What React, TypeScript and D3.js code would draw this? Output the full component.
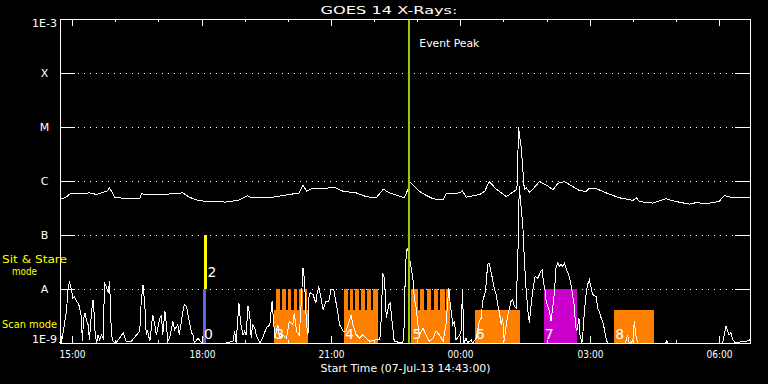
import React from "react";
import * as d3 from "d3";

// ---------- DATA ----------
// time axis: minutes since start time 2013-07-07 14:43 UTC, 16 hours shown
const START_ISO = "2013-07-07T14:43:00Z";
const DURATION_MIN = 960;

// flux levels (W/m^2) and their labels
const levelValues = [1e-9, 1e-8, 1e-7, 1e-6, 1e-5, 1e-4, 1e-3];
const levelLabels = ["1E-9", "A", "B", "C", "M", "X", "1E-3"];

// GOES 14 long channel (1-8 A), log10 flux
const longT = [0, 7, 14, 27, 41, 51, 60, 65, 69, 73, 76, 111, 113, 139, 153, 171, 180, 190, 204, 231, 250, 261, 266, 296, 324, 333, 338, 343, 352, 370, 380, 394, 412, 426, 440, 450, 458, 470, 479, 484, 486, 491, 500, 510, 519, 533, 537, 556, 560, 565, 584, 591, 597, 607, 621, 635, 636, 638, 642, 646, 649, 653, 658, 667, 676, 686, 693, 702, 713, 723, 732, 737, 746, 760, 778, 797, 802, 806, 825, 843, 857, 876, 885, 899, 917, 924, 936, 960];
const longLog = [-6.33, -6.31, -6.24, -6.24, -6.22, -6.25, -6.21, -6.19, -6.13, -6.22, -6.31, -6.33, -6.24, -6.25, -6.24, -6.22, -6.30, -6.35, -6.38, -6.39, -6.35, -6.27, -6.31, -6.30, -6.24, -6.22, -6.07, -6.19, -6.13, -6.14, -6.11, -6.19, -6.22, -6.29, -6.31, -6.15, -6.22, -6.27, -6.31, -6.16, -6.01, -6.07, -6.19, -6.27, -6.33, -6.35, -6.24, -6.22, -6.18, -6.30, -6.25, -6.19, -6.01, -6.15, -6.29, -6.16, -6.07, -5.01, -5.42, -6.16, -6.13, -6.21, -6.15, -6.01, -6.07, -6.16, -6.04, -6.01, -6.10, -6.18, -6.19, -6.13, -6.14, -6.22, -6.31, -6.36, -6.31, -6.38, -6.41, -6.33, -6.38, -6.43, -6.40, -6.42, -6.38, -6.27, -6.31, -6.30];

// GOES 14 short channel (0.5-4 A), log10 flux
const shortT = [0, 0.5, 2, 9, 11, 13, 16, 18, 20, 23, 25, 27, 30, 31, 33, 35, 37, 39, 41, 44, 46, 47, 49, 51, 53, 55, 57.5, 60, 62, 64.5, 67, 69, 71.5, 74, 78, 88, 92, 99, 111, 113, 115.5, 118, 120, 122, 125, 129, 132, 134, 139, 141, 143, 146, 148, 150, 152.5, 157, 159.5, 164, 166, 171, 173, 176, 178, 180, 183, 185, 187, 192, 197, 231,
  240.6, 243, 245, 249, 251, 254.5, 257, 259, 261.5, 264, 266, 268, 271, 273, 275, 278, 282, 287, 292, 295, 299, 303, 305.5, 310, 315, 319, 324, 326, 329, 333, 336, 338, 340, 343, 345, 346, 348, 352, 356, 357.5, 360, 363.5, 366, 370, 374, 377, 381, 383, 387, 389, 394, 398, 403, 405, 407.5, 412, 417, 421, 426, 431, 440, 445, 447, 449, 451.5, 454, 457.5, 459.5, 462, 465, 477,
  479, 480.6, 483, 485, 488.5, 491, 493, 495.5, 498, 500, 505, 509, 514, 519, 523, 528, 533, 537, 541, 543, 546.5, 549, 551, 556, 558, 560, 562, 565, 567, 572, 574, 579, 583.5, 586, 588, 592, 595, 597, 600, 602, 604, 607, 609, 611, 614, 616, 618, 621, 623, 627.5, 630, 632, 634.5, 637, 639, 644, 646, 648, 651, 653, 655, 658, 661, 665, 667, 669, 671, 672.5, 675, 676, 678.5, 681, 683, 685.5, 688, 690, 692.5, 695, 697, 699, 702, 704, 708,
  711, 713, 716, 717, 719, 722, 723.5, 726, 727, 730, 732, 734, 736.5, 739, 741, 746, 748, 750, 753, 755, 757, 760, 762, 787, 789.5, 792, 797, 799, 801, 804, 843, 844, 845, 922, 924, 926.5, 929, 931, 933.5, 936, 940, 950, 955, 960];
const shortLog = [-9.0, -8.66, -9.0, -8.41, -8.04, -7.86, -8.01, -8.17, -8.14, -8.23, -8.26, -8.32, -8.54, -8.97, -8.54, -8.44, -8.6, -8.66, -8.94, -8.41, -8.2, -8.35, -8.85, -9, -8.85, -8.94, -8.85, -8.91, -7.89, -7.95, -8.07, -7.86, -8.85, -8.97, -9, -8.81, -8.97, -8.97, -8.78, -8.23, -7.92, -8.29, -8.85, -8.78, -8.97, -8.48, -8.66, -8.85, -8.54, -8.48, -8.85, -8.41, -8.66, -8.97, -8.91, -8.6, -8.75, -8.66, -8.85, -8.41, -8.29, -8.32, -8.48, -8.6, -8.81, -8.85, -9, -8.91, -9, -9,
  -8.97, -8.78, -9, -8.26, -8.6, -8.85, -8.78, -8.85, -8.32, -8.48, -8.91, -8.66, -8.72, -8.85, -8.91, -9, -8.91, -8.72, -8.66, -8.23, -8.91, -8.66, -8.91, -8.85, -8.91, -8.6, -8.66, -8.44, -8.78, -8.85, -8.17, -7.61, -7.8, -8.66, -8.85, -8.17, -8.07, -8.1, -8.26, -8.1, -7.95, -8.2, -8.38, -8.23, -8.23, -8.01, -8.01, -8.17, -8.48, -8.66, -8.78, -8.78, -8.57, -8.48, -8.66, -8.85, -8.91, -8.85, -8.91, -8.97, -8.94, -8.94, -8.54, -7.7, -7.8, -8.54, -8.29, -8.26, -8.6, -8.97, -9,
  -8.66, -7.55, -7.24, -7.33, -7.61, -7.8, -8.17, -8.35, -8.66, -8.85, -8.72, -8.85, -8.97, -8.91, -8.78, -8.85, -8.97, -8.66, -7.98, -8.29, -8.66, -8.6, -8.94, -8.85, -8.78, -8.01, -9, -8.91, -9, -8.94, -9, -8.91, -8.6, -8.54, -8.23, -8.04, -7.55, -7.52, -7.7, -7.83, -7.98, -8.1, -8.29, -8.41, -8.66, -8.54, -8.97, -8.66, -8.48, -8.23, -8.2, -8.32, -8.35, -7.43, -6.1, -6.84, -7.43, -7.92, -8.41, -8.63, -8.35, -8.01, -7.77, -7.8, -7.73, -7.67, -7.64, -7.86, -8.04, -8.2, -8.32, -8.41, -8.6, -8.35, -8.04, -7.61, -7.52, -7.58, -7.54, -7.58, -7.52, -7.61, -7.75,
  -7.92, -8.1, -8.35, -8.66, -8.78, -8.54, -8.85, -9, -8.91, -8.35, -8.1, -7.92, -7.83, -7.98, -8.1, -8.14, -8.35, -8.41, -8.54, -8.6, -8.72, -8.94, -9, -9, -8.85, -9, -8.97, -8.6, -8.85, -9, -9, -8.94, -9, -9, -8.85, -8.69, -8.78, -8.85, -8.81, -8.94, -9, -8.97, -8.97, -8.94];

const eventPeakMin = 486;

// observations (IRIS-like timeline boxes)
const obsLabel = ["0", "2", "3", "4", "5", "6", "7", "8"];
const obsKind = ["scan", "sitstare", "raster", "raster", "raster", "raster", "large", "raster"];
const obsStart = [199, 201, 298, 395, 489, 577, 673, 771];
const obsEnd = [203, 205, 345, 443, 542, 640, 719, 826];
const obsBottomLog = [-9, -8, -9, -9, -9, -9, -9, -9];
const obsTopLog = [-8, -7, -8.38, -8.38, -8.38, -8.38, -8, -8.38];

// individual short rasters drawn as stripes up to the A level
const stripeStart = [301, 309, 317, 325, 333, 341, 395, 403, 411, 419, 427, 435, 489, 501, 510, 520, 529, 537];
const stripeEnd = [306, 314, 322, 330, 338, 344, 400, 408, 416, 424, 432, 443, 498, 507, 516, 526, 535, 542];

const kindColor: Record<string, string> = {
  scan: "#6464e6",
  sitstare: "#ffff00",
  raster: "#ff8000",
  large: "#cc00cc",
};

// ---------- CHART ----------
const W = 768;
const H = 384;
const L = 60;
const R = 750;
const T = 19;
const B = 343;
const FONT = "'DejaVu Sans', sans-serif";

export default function App() {
  const start = new Date(START_ISO);
  const end = new Date(start.getTime() + DURATION_MIN * 60000);
  const x = d3.scaleLinear().domain([0, DURATION_MIN]).range([L, R]);
  const xTime = d3.scaleUtc().domain([start, end]).range([L, R]);
  const y = d3.scaleLog().domain([1e-9, 1e-3]).range([B, T]).clamp(true);
  const yl = (v: number) => y(Math.pow(10, v));

  const longData = longT.map((t, i) => [t, longLog[i]] as [number, number]);
  const shortData = shortT.map((t, i) => [t, shortLog[i]] as [number, number]);
  const line = d3
    .line<[number, number]>()
    .x((d) => x(d[0]))
    .y((d) => yl(d[1]));

  const hourTicks = xTime.ticks(d3.utcHour.every(1)!);
  const fmt = d3.utcFormat("%H:%M");

  const white = "#ffffff";

  return (
    <svg
      width={W}
      height={H}
      style={{ position: "absolute", left: 0, top: 0, display: "block" }}
      fontFamily={FONT}
    >
      <rect x={0} y={0} width={W} height={H} fill="#000" />

      {/* grid lines for A..X */}
      {levelValues.slice(1, -1).map((v) => {
        const yy = Math.round(y(v)) + 0.5;
        return (
          <g key={v} shapeRendering="crispEdges">
            <line x1={L} x2={L + 15} y1={yy} y2={yy} stroke={white} />
            <line x1={R - 15} x2={R} y1={yy} y2={yy} stroke={white} />
            <line
              x1={L + 18}
              x2={R - 15}
              y1={yy}
              y2={yy}
              stroke={white}
              strokeDasharray="1 5"
            />
          </g>
        );
      })}

      {/* observation boxes */}
      {obsStart.map((s, i) => {
        const x0 = x(s);
        const x1 = x(obsEnd[i]);
        const y0 = yl(obsTopLog[i]);
        const y1 = yl(obsBottomLog[i]);
        return (
          <rect
            key={"o" + i}
            x={x0}
            y={y0}
            width={x1 - x0}
            height={y1 - y0}
            fill={kindColor[obsKind[i]]}
            shapeRendering="crispEdges"
          />
        );
      })}
      {stripeStart.map((s, i) => {
        const x0 = x(s);
        const x1 = x(stripeEnd[i]);
        return (
          <rect
            key={"s" + i}
            x={x0}
            y={yl(-8)}
            width={x1 - x0}
            height={yl(-9) - yl(-8)}
            fill={kindColor.raster}
            shapeRendering="crispEdges"
          />
        );
      })}
      {obsLabel.map((lab, i) => (
        <text
          key={"l" + i}
          x={x(obsStart[i]) + (obsKind[i] === "sitstare" ? 3 : 1)}
          y={yl(obsBottomLog[i]) - (obsKind[i] === "sitstare" ? 12 : 4)}
          fill={white}
          fontSize={14}
        >
          {lab}
        </text>
      ))}

      {/* data lines */}
      <path d={line(shortData) || ""} fill="none" stroke={white} strokeWidth={1} shapeRendering="crispEdges" />
      <path d={line(longData) || ""} fill="none" stroke={white} strokeWidth={1} shapeRendering="crispEdges" />

      {/* event peak */}
      <line
        x1={x(eventPeakMin)}
        x2={x(eventPeakMin)}
        y1={T}
        y2={B}
        stroke="#99cc00"
        strokeWidth={2}
        shapeRendering="crispEdges"
      />
      <text x={x(eventPeakMin) + 10} y={47} fill={white} fontSize={11} textLength={60} lengthAdjust="spacingAndGlyphs">
        Event Peak
      </text>

      {/* frame */}
      <rect
        x={L + 0.5}
        y={T + 0.5}
        width={R - L}
        height={B - T}
        fill="none"
        stroke={white}
        shapeRendering="crispEdges"
      />

      {/* time ticks top & bottom */}
      {hourTicks.map((t) => {
        const xx = Math.round(xTime(t)) + 0.5;
        const major = t.getUTCHours() % 3 === 0;
        const len = major ? 7 : 3;
        return (
          <g key={t.getTime()} shapeRendering="crispEdges">
            <line x1={xx} x2={xx} y1={T} y2={T + len} stroke={white} />
            <line x1={xx} x2={xx} y1={B} y2={B - len} stroke={white} />
            {major && (
              <text x={xx} y={358} fill={white} fontSize={11} textAnchor="middle" textLength={26} lengthAdjust="spacingAndGlyphs">
                {fmt(t)}
              </text>
            )}
          </g>
        );
      })}

      {/* y labels */}
      {levelValues.map((v, i) => {
        let yy = y(v) + 4;
        if (i === 0) yy = y(v);
        if (i === levelValues.length - 1) yy = y(v) + 8;
        const long = levelLabels[i].length > 1;
        return (
          <text
            key={"y" + i}
            x={44.5}
            y={yy}
            fill={white}
            fontSize={11}
            textAnchor="middle"
            {...(long ? { textLength: 25, lengthAdjust: "spacingAndGlyphs" } : {})}
          >
            {levelLabels[i]}
          </text>
        );
      })}

      {/* title & axis title */}
      <text x={389} y={14} fill={white} fontSize={11} textAnchor="middle" textLength={137} lengthAdjust="spacingAndGlyphs">
        GOES 14 X-Rays:
      </text>
      <text x={405.5} y={372} fill={white} fontSize={11} textAnchor="middle" textLength={170} lengthAdjust="spacingAndGlyphs">
        Start Time (07-Jul-13 14:43:00)
      </text>

      {/* legend */}
      <text x={2} y={263} fill="#ffff00" fontSize={11} textLength={65} lengthAdjust="spacingAndGlyphs">
        Sit &amp; Stare
      </text>
      <text x={12} y={275} fill="#ffff00" fontSize={11} textLength={25} lengthAdjust="spacingAndGlyphs">
        mode
      </text>
      <text x={2} y={328} fill="#ffff00" fontSize={11} textLength={55} lengthAdjust="spacingAndGlyphs">
        Scan mode
      </text>
    </svg>
  );
}
